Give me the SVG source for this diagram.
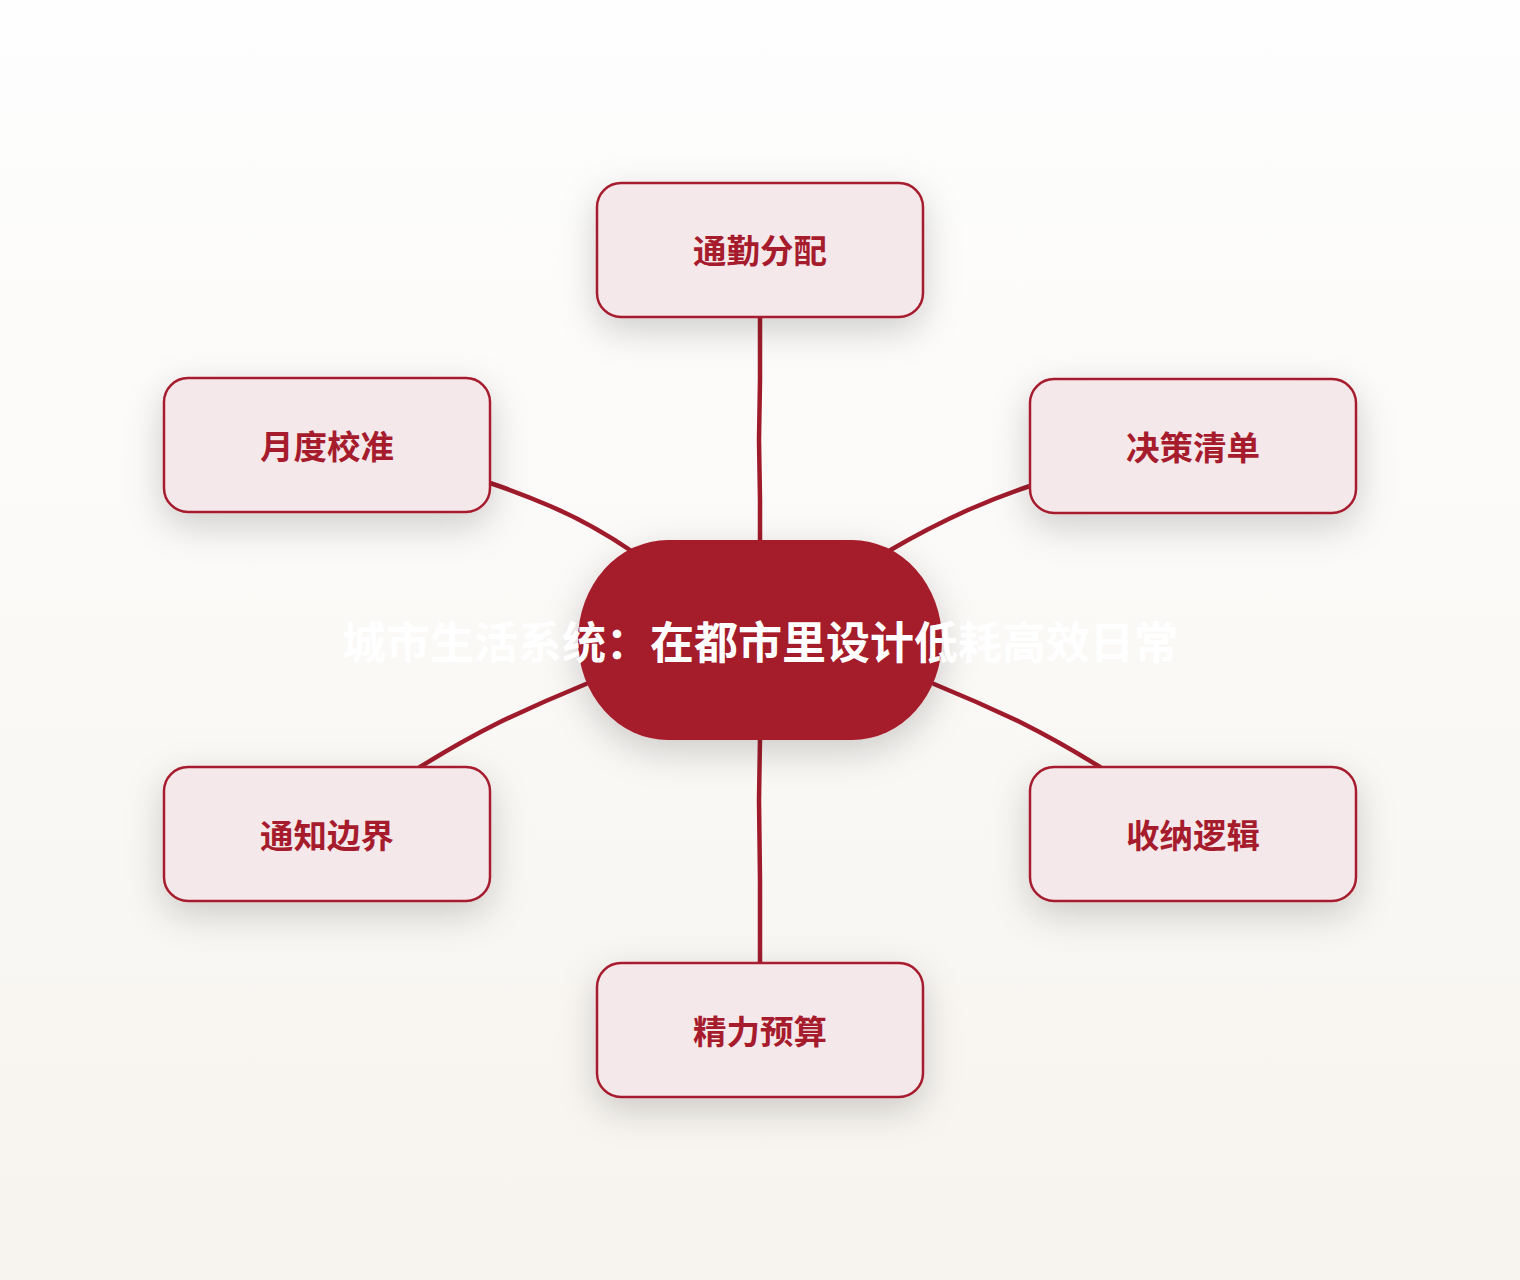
<svg xmlns="http://www.w3.org/2000/svg" width="1520" height="1280" viewBox="0 0 1520 1280">
<defs>
<linearGradient id="bg" x1="0" y1="0" x2="0" y2="1">
<stop offset="0" stop-color="#fefefe"/>
<stop offset="1" stop-color="#f7f4ef"/>
</linearGradient>
<filter id="sh" x="-40%" y="-40%" width="180%" height="200%">
<feDropShadow dx="0" dy="12" stdDeviation="18" flood-color="#000" flood-opacity="0.18"/>
</filter>
<style>
.edge{fill:none;stroke:#9f1b2b;stroke-width:4.5;stroke-linecap:round;stroke-linejoin:round}
.box{fill:#f5e8eb;stroke:#a61c2d;stroke-width:2.5;filter:url(#sh)}
.lbl{font-family:"Noto Sans CJK SC","Noto Sans",sans-serif;font-weight:700;font-size:33.5px;fill:#a61c2d;text-anchor:middle}
.hub{fill:#a51b2b;filter:url(#sh)}
.title{font-family:"Noto Sans CJK SC","Noto Sans",sans-serif;font-weight:700;font-size:44px;fill:#ffffff;text-anchor:middle}
</style>
</defs>
<rect width="1520" height="1280" fill="url(#bg)"/>
<g id="connectors">
<path class="edge" d="M760 318 L760 380 L759 440 L760 500 L760 542"/>
<path class="edge" d="M490 483 Q520 493 550 506 Q592 524 633 552"/>
<path class="edge" d="M1030 486 Q1000 496 968 510 Q928 528 887 552"/>
<path class="edge" d="M420 767 Q460 742 500 722 Q542 702 586 684"/>
<path class="edge" d="M1100 767 Q1060 742 1020 722 Q978 702 934 684"/>
<path class="edge" d="M760 738 L759 800 L760 880 L760 963"/>
</g>
<g id="node-top">
<rect class="box" x="597" y="183" width="326" height="134" rx="24"/>
<text class="lbl" x="760" y="263">通勤分配</text>
</g>
<g id="node-left-upper">
<rect class="box" x="164" y="378" width="326" height="134" rx="24"/>
<text class="lbl" x="327" y="459">月度校准</text>
</g>
<g id="node-right-upper">
<rect class="box" x="1030" y="379" width="326" height="134" rx="24"/>
<text class="lbl" x="1193" y="460">决策清单</text>
</g>
<g id="node-left-lower">
<rect class="box" x="164" y="767" width="326" height="134" rx="24"/>
<text class="lbl" x="327" y="848">通知边界</text>
</g>
<g id="node-right-lower">
<rect class="box" x="1030" y="767" width="326" height="134" rx="24"/>
<text class="lbl" x="1193" y="848">收纳逻辑</text>
</g>
<g id="node-bottom">
<rect class="box" x="597" y="963" width="326" height="134" rx="24"/>
<text class="lbl" x="760" y="1044">精力预算</text>
</g>
<g id="node-center">
<rect class="hub" x="578" y="540" width="364" height="200" rx="90" ry="100"/>
<text class="title" x="760" y="659">城市生活系统：在都市里设计低耗高效日常</text>
</g>
</svg>
